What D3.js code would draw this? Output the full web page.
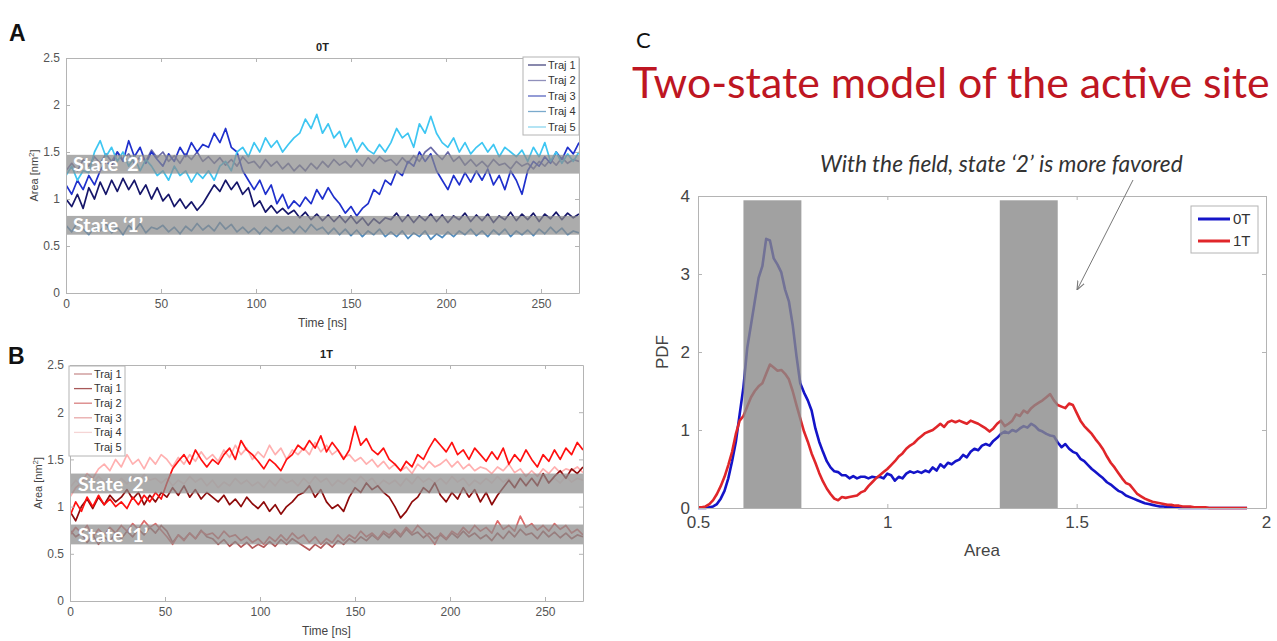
<!DOCTYPE html>
<html><head><meta charset="utf-8">
<script src="https://cdn.jsdelivr.net/npm/d3@7"></script>
<style>body{margin:0;background:#fff;} svg{display:block;font-family:"Liberation Sans",Arial,sans-serif;}</style>
</head><body><svg id="fig" width="1277" height="641"></svg>
<script>
// ---------------- DATA ----------------
const timeTicks = [0, 50, 100, 150, 200, 250];
const areaTicks = [0, 0.5, 1, 1.5, 2, 2.5];
const sampleTimes = d3.range(0, 271, 3); // ns, one sample every 3 ns

// Panel A (0T) trajectories, area in nm^2
const trajLabelsA = ["Traj 1", "Traj 2", "Traj 3", "Traj 4", "Traj 5"];
const a0T_traj1 = [1.0,0.92,1.05,0.9,1.12,1.0,1.18,1.05,1.2, 1.08,1.22,1.1,1.2,1.05,1.15,1.0,1.12, 0.98,1.05,0.92,1.0,0.9,0.97,0.88,0.95, 1.05,1.15,1.08,1.2,1.1,1.18,1.05,1.12, 0.92,0.98,0.86,0.93,0.85,0.9,0.84,0.88, 0.8,0.86,0.78,0.84,0.77,0.83,0.76,0.82, 0.75,0.82,0.74,0.8,0.72,0.79,0.74,0.8, 0.78,0.85,0.76,0.83,0.75,0.82,0.77,0.84, 0.76,0.83,0.75,0.82,0.78,0.85,0.76,0.83, 0.77,0.84,0.75,0.82,0.78,0.86,0.77,0.84, 0.78,0.85,0.76,0.84,0.79,0.86,0.78,0.85,0.8,0.84];
const a0T_traj2 = [1.3,1.38,1.3,1.42,1.35,1.45,1.38,1.48,1.4, 1.5,1.42,1.48,1.38,1.45,1.4,1.52,1.44, 1.5,1.4,1.46,1.38,1.48,1.42,1.5,1.4, 1.45,1.38,1.44,1.36,1.42,1.35,1.45,1.38, 1.4,1.33,1.42,1.35,1.4,1.32,1.38,1.3, 1.36,1.3,1.38,1.32,1.4,1.34,1.42,1.36, 1.4,1.34,1.42,1.35,1.44,1.38,1.45,1.4, 1.42,1.36,1.44,1.38,1.46,1.4,1.5,1.55, 1.48,1.42,1.5,1.4,1.45,1.36,1.42,1.35, 1.4,1.34,1.42,1.36,1.38,1.32,1.4,1.35, 1.38,1.32,1.4,1.35,1.42,1.36,1.44,1.38,1.42,1.4];
const a0T_traj3 = [1.15,1.05,1.2,1.1,1.25,1.15,1.3,1.4,1.35, 1.5,1.4,1.62,1.45,1.55,1.38,1.5,1.42, 1.35,1.48,1.4,1.55,1.45,1.6,1.5,1.58, 1.55,1.7,1.6,1.75,1.55,1.5,1.3,1.2, 1.1,1.2,1.05,1.15,0.95,1.05,0.9,0.98, 0.92,1.02,0.95,1.1,1.0,1.12,1.02,0.95, 0.85,0.92,0.82,0.9,0.95,1.1,1.05,1.2, 1.15,1.3,1.25,1.4,1.35,1.5,1.4,1.48, 1.3,1.2,1.1,1.25,1.15,1.28,1.18,1.3, 1.2,1.32,1.15,1.25,1.1,1.3,1.2,1.05, 1.3,1.4,1.35,1.45,1.38,1.5,1.42,1.55,1.48,1.6];
const a0T_traj4 = [0.72,0.65,0.75,0.68,0.62,0.7,0.66,0.74,0.64, 0.7,0.62,0.72,0.66,0.74,0.64,0.7,0.68, 0.72,0.65,0.7,0.63,0.71,0.66,0.74,0.67, 0.72,0.66,0.75,0.68,0.73,0.65,0.7,0.64, 0.69,0.63,0.7,0.65,0.72,0.66,0.7,0.64, 0.71,0.65,0.73,0.67,0.7,0.63,0.69,0.62, 0.68,0.61,0.67,0.6,0.66,0.62,0.68,0.6, 0.65,0.6,0.66,0.58,0.64,0.6,0.66,0.57, 0.63,0.59,0.65,0.6,0.66,0.62,0.68,0.61, 0.66,0.6,0.67,0.62,0.68,0.6,0.66,0.62, 0.67,0.61,0.68,0.63,0.7,0.64,0.69,0.62,0.66,0.64];
const a0T_traj5 = [1.25,1.35,1.2,1.3,1.28,1.5,1.62,1.45,1.55, 1.4,1.5,1.35,1.45,1.3,1.42,1.35,1.25, 1.3,1.2,1.35,1.25,1.3,1.18,1.28,1.22, 1.3,1.2,1.35,1.4,1.3,1.5,1.55,1.45, 1.6,1.5,1.65,1.55,1.62,1.5,1.58,1.65, 1.7,1.85,1.75,1.9,1.7,1.8,1.65,1.72, 1.55,1.65,1.5,1.6,1.52,1.48,1.58,1.5, 1.6,1.75,1.65,1.7,1.55,1.8,1.7,1.88, 1.7,1.6,1.55,1.65,1.5,1.6,1.48,1.55, 1.6,1.5,1.58,1.45,1.55,1.5,1.45,1.52, 1.4,1.55,1.45,1.6,1.4,1.5,1.38,1.48,1.4,1.5];

// Panel B (1T) trajectories
const trajLabelsB = ["Traj 1", "Traj 1", "Traj 2", "Traj 3", "Traj 4", "Traj 5"];
const b1T_traj1a = [0.75,0.68,0.72,0.62,0.7,0.6,0.68,0.63,0.72, 0.66,0.74,0.68,0.76,0.7,0.78,0.72,0.8, 0.74,0.62,0.7,0.65,0.72,0.66,0.75,0.68, 0.66,0.6,0.65,0.58,0.63,0.57,0.62,0.56, 0.6,0.57,0.63,0.58,0.65,0.6,0.66,0.62, 0.58,0.54,0.6,0.56,0.62,0.57,0.64,0.6, 0.66,0.62,0.68,0.64,0.7,0.65,0.72,0.67, 0.74,0.68,0.76,0.7,0.73,0.67,0.72,0.66, 0.7,0.65,0.72,0.67,0.74,0.68,0.72,0.66, 0.7,0.64,0.72,0.66,0.74,0.68,0.76,0.7, 0.72,0.66,0.74,0.68,0.73,0.67,0.72,0.66,0.7,0.68];
const b1T_traj1b = [0.95,0.85,1.0,1.08,0.98,1.1,1.02,1.12,1.05, 1.1,1.18,1.08,1.15,1.02,1.12,1.05,1.15, 1.1,1.2,1.12,1.22,1.1,1.18,1.08,1.15, 1.1,1.05,1.12,1.02,1.08,1.0,1.1,1.03, 0.98,1.05,0.95,1.02,0.92,1.0,1.05,1.12, 1.15,1.22,1.1,1.18,1.05,0.98,1.02,0.95, 1.1,1.2,1.15,1.25,1.18,1.22,1.15,1.1, 1.0,0.88,0.95,1.05,1.1,1.2,1.15,1.25, 1.12,1.05,1.15,1.08,1.2,1.1,1.18,1.05, 1.15,1.02,1.12,1.2,1.28,1.2,1.3,1.22, 1.3,1.22,1.35,1.25,1.32,1.38,1.3,1.4,1.35,1.42];
const b1T_traj2 = [0.9,1.05,0.95,1.1,1.0,1.12,1.02,1.08,1.0, 1.05,0.98,1.1,1.02,1.12,1.05,1.15,1.08, 1.25,1.4,1.48,1.55,1.45,1.6,1.5,1.42, 1.5,1.45,1.55,1.62,1.5,1.7,1.6,1.55, 1.48,1.4,1.5,1.45,1.38,1.5,1.55,1.65, 1.6,1.7,1.62,1.75,1.58,1.68,1.6,1.5, 1.6,1.85,1.65,1.72,1.6,1.55,1.62,1.5, 1.45,1.38,1.48,1.42,1.55,1.5,1.62,1.72, 1.65,1.58,1.68,1.55,1.6,1.5,1.62,1.55, 1.48,1.58,1.5,1.62,1.45,1.55,1.48,1.6, 1.5,1.42,1.55,1.48,1.6,1.5,1.62,1.55,1.68,1.6];
const b1T_traj3 = [0.7,0.78,0.72,0.8,0.68,0.76,0.7,0.78,0.72, 0.8,0.74,0.82,0.76,0.85,0.78,0.82,0.75, 0.68,0.6,0.7,0.64,0.72,0.66,0.74,0.7, 0.72,0.66,0.74,0.68,0.7,0.64,0.68,0.62, 0.66,0.6,0.68,0.63,0.7,0.64,0.72,0.66, 0.7,0.62,0.68,0.6,0.66,0.62,0.7,0.64, 0.7,0.66,0.74,0.68,0.72,0.66,0.74,0.7, 0.76,0.7,0.78,0.72,0.8,0.74,0.68,0.6, 0.72,0.66,0.74,0.7,0.78,0.72,0.8,0.74, 0.78,0.72,0.85,0.76,0.8,0.74,0.9,0.78, 0.82,0.75,0.8,0.74,0.82,0.76,0.8,0.72,0.76,0.7];
const b1T_traj4 = [1.1,1.2,1.25,1.35,1.3,1.4,1.45,1.38,1.5, 1.42,1.55,1.45,1.5,1.4,1.52,1.45,1.55, 1.5,1.42,1.52,1.45,1.55,1.48,1.58,1.5, 1.55,1.48,1.6,1.52,1.65,1.55,1.62,1.5, 1.58,1.52,1.65,1.55,1.62,1.5,1.6,1.55, 1.62,1.55,1.68,1.58,1.65,1.55,1.6,1.52, 1.55,1.48,1.52,1.45,1.5,1.42,1.48,1.4, 1.45,1.38,1.42,1.35,1.45,1.4,1.48,1.42, 1.45,1.5,1.42,1.48,1.4,1.45,1.38,1.42, 1.4,1.35,1.42,1.38,1.45,1.36,1.4,1.32, 1.38,1.32,1.4,1.35,1.42,1.36,1.4,1.38,1.42,1.36];
const b1T_traj5 = [1.2,1.28,1.22,1.3,1.25,1.32,1.26,1.3,1.24, 1.3,1.24,1.32,1.26,1.34,1.28,1.3,1.25, 1.3,1.22,1.28,1.24,1.32,1.26,1.3,1.22, 1.28,1.2,1.26,1.22,1.3,1.24,1.28,1.22, 1.26,1.2,1.28,1.22,1.3,1.25,1.28,1.22, 1.3,1.24,1.32,1.26,1.3,1.22,1.28,1.24, 1.3,1.25,1.32,1.26,1.3,1.22,1.28,1.24, 1.28,1.22,1.3,1.24,1.32,1.26,1.3,1.25, 1.3,1.24,1.32,1.26,1.3,1.22,1.28,1.24, 1.3,1.25,1.32,1.26,1.3,1.22,1.28,1.24, 1.3,1.24,1.32,1.26,1.3,1.25,1.32,1.26,1.3,1.28];

// State bands [low, high] in nm^2
const statesA = [[0.62, 0.82], [1.27, 1.47]];
const statesB = [[0.60, 0.81], [1.14, 1.35]];
const stateNames = ["State \u20181\u2019", "State \u20182\u2019"];

// Panel C: PDF of area
const pdfTicksX = [0.5, 1, 1.5, 2];
const pdfTicksY = [0, 1, 2, 3, 4];
const areaBins = d3.range(0, 146).map(i => 0.5 + i / 100); // bin centres 0.50..1.95
const pdf0T = [0.00,0.00,0.00,0.01,0.02,0.05,0.12,0.22,0.38,0.60, 0.85,1.20,1.55,2.05,2.35,2.65,2.95,3.10,3.45,3.43, 3.20,3.12,3.02,2.80,2.65,2.35,1.95,1.60,1.48,1.38, 1.25,1.02,0.85,0.72,0.60,0.52,0.47,0.46,0.42,0.42, 0.38,0.41,0.38,0.40,0.40,0.38,0.40,0.39,0.40,0.38, 0.44,0.42,0.35,0.40,0.38,0.44,0.47,0.45,0.47,0.45, 0.48,0.46,0.52,0.48,0.56,0.52,0.58,0.56,0.60,0.62, 0.68,0.65,0.72,0.76,0.74,0.80,0.82,0.80,0.86,0.90, 0.95,0.98,0.96,1.00,0.98,1.02,1.05,1.03,1.08,1.05, 1.00,0.98,0.95,0.93,0.92,0.84,0.78,0.82,0.76,0.72, 0.70,0.63,0.60,0.55,0.50,0.46,0.42,0.38,0.33,0.30, 0.26,0.22,0.20,0.16,0.14,0.12,0.10,0.08,0.06,0.05, 0.04,0.03,0.02,0.02,0.01,0.01,0.01,0.00,0.00,0.00, 0.00,0.00,0.00,0.00,0.00,0.00,0.00,0.00,0.00,0.00, 0.00,0.00,0.00,0.00,0.00,0.00];
const pdf1T = [0.01,0.01,0.02,0.05,0.10,0.18,0.28,0.40,0.55,0.72, 0.95,1.12,1.18,1.30,1.42,1.50,1.56,1.60,1.72,1.84, 1.80,1.76,1.77,1.72,1.65,1.50,1.32,1.15,0.98,0.85, 0.70,0.58,0.45,0.34,0.25,0.18,0.12,0.10,0.14,0.13, 0.14,0.15,0.16,0.20,0.22,0.28,0.33,0.38,0.42,0.46, 0.50,0.55,0.60,0.66,0.70,0.76,0.80,0.83,0.88,0.92, 0.96,0.98,1.00,1.04,1.08,1.04,1.10,1.12,1.10,1.12, 1.10,1.08,1.12,1.10,1.08,1.05,1.02,0.98,1.02,1.08, 1.12,1.05,1.08,1.12,1.20,1.18,1.25,1.22,1.28,1.32, 1.35,1.38,1.42,1.46,1.38,1.32,1.30,1.28,1.34,1.32, 1.22,1.12,1.05,1.00,0.95,0.88,0.82,0.75,0.66,0.58, 0.52,0.45,0.38,0.32,0.30,0.24,0.18,0.15,0.12,0.10, 0.08,0.07,0.06,0.05,0.04,0.04,0.03,0.03,0.02,0.02, 0.02,0.01,0.01,0.01,0.01,0.00,0.00,0.00,0.00,0.00, 0.00,0.00,0.00,0.00,0.00,0.00];
const pdfStates = [[0.62, 0.773], [1.297, 1.45]];
const pdfSeriesNames = ["0T", "1T"];

// ---------------- DRAWING ----------------
const svg = d3.select("#fig");
const fmt = d3.format("~g");

function fitText(sel, targetW) {
  const w = sel.node().getComputedTextLength();
  const fs = parseFloat(sel.attr("font-size"));
  sel.attr("font-size", fs * targetW / w);
}

function styleAxis(g, fs, color) {
  g.selectAll(".domain").attr("stroke", "#b4b4b4").attr("stroke-width", 1);
  g.selectAll(".tick line").attr("stroke", "#b4b4b4");
  g.selectAll(".tick text").attr("fill", color).attr("font-size", fs).attr("font-family", "'Liberation Sans', Arial, sans-serif");
}

function frame(g, x, y, xt, yt, fs, color, pad) {
  const [x0, x1] = x.range(), [y0, y1] = y.range();
  const gb = g.append("g").attr("transform", `translate(0,${y0})`)
    .call(d3.axisBottom(x).tickValues(xt).tickSizeInner(-4).tickSizeOuter(0).tickPadding(pad).tickFormat(fmt));
  const gt = g.append("g").attr("transform", `translate(0,${y1})`)
    .call(d3.axisTop(x).tickValues(xt).tickSizeInner(-4).tickSizeOuter(0).tickFormat(() => ""));
  const gl = g.append("g").attr("transform", `translate(${x0},0)`)
    .call(d3.axisLeft(y).tickValues(yt).tickSizeInner(-4).tickSizeOuter(0).tickPadding(pad).tickFormat(fmt));
  const gr = g.append("g").attr("transform", `translate(${x1},0)`)
    .call(d3.axisRight(y).tickValues(yt).tickSizeInner(-4).tickSizeOuter(0).tickFormat(() => ""));
  [gb, gt, gl, gr].forEach(a => styleAxis(a, fs, color));
}

function tracePanel(cfg) {
  const x = d3.scaleLinear().domain([0, 270]).range([cfg.left, cfg.right]);
  const y = d3.scaleLinear().domain([0, 2.5]).range([cfg.bottom, cfg.top]);
  const g = svg.append("g");
  const clipId = "clip" + cfg.id;
  svg.append("clipPath").attr("id", clipId).append("rect")
    .attr("x", cfg.left).attr("y", cfg.top).attr("width", cfg.right - cfg.left).attr("height", cfg.bottom - cfg.top);
  const plot = g.append("g").attr("clip-path", `url(#${clipId})`);
  const line = d3.line().x((d, j) => x(sampleTimes[j])).y(d => y(d));
  cfg.drawOrder.forEach(i => {
    plot.append("path").datum(cfg.series[i]).attr("d", line)
      .attr("fill", "none").attr("stroke", cfg.colors[i]).attr("stroke-width", 1.7).attr("stroke-linejoin", "round");
  });
  cfg.states.forEach((s, k) => {
    plot.append("rect").attr("x", x(0)).attr("width", x(270) - x(0))
      .attr("y", y(s[1])).attr("height", y(s[0]) - y(s[1]))
      .attr("fill", "#8c8c8c").attr("opacity", 0.72);
    const t = g.append("text").attr("x", x(0) + cfg.stateDx).attr("y", y((s[0] + s[1]) / 2))
      .attr("dy", "0.36em").attr("fill", "#fff").attr("font-weight", "bold")
      .attr("font-family", "Lato, 'Open Sans', sans-serif").attr("font-size", 18)
      .text(stateNames[k]);
    fitText(t, 70);
  });
  frame(g, x, y, timeTicks, areaTicks, 12, "#555", 6);
  g.append("text").attr("x", (cfg.left + cfg.right) / 2).attr("y", cfg.top - 7)
    .attr("text-anchor", "middle").attr("font-size", 11).attr("font-weight", "bold").attr("fill", "#222").text(cfg.title);
  g.append("text").attr("x", (cfg.left + cfg.right) / 2).attr("y", cfg.bottom + 34)
    .attr("text-anchor", "middle").attr("font-size", 12).attr("fill", "#444").text("Time [ns]");
  const yl = g.append("text").attr("transform", `translate(${cfg.left - 28},${(cfg.top + cfg.bottom) / 2}) rotate(-90)`)
    .attr("text-anchor", "middle").attr("font-size", 11).attr("fill", "#444");
  yl.append("tspan").text("Area [nm");
  yl.append("tspan").attr("font-size", 8).attr("dy", -4).text("2");
  yl.append("tspan").attr("dy", 4).text("]");
  const L = cfg.legend;
  g.append("rect").attr("x", L.x).attr("y", L.y).attr("width", L.w).attr("height", L.h)
    .attr("fill", "#fff").attr("stroke", "#b4b4b4");
  cfg.labels.forEach((lab, i) => {
    const yy = L.y + L.first + i * L.step;
    g.append("line").attr("x1", L.x + 5).attr("x2", L.x + 23).attr("y1", yy).attr("y2", yy)
      .attr("stroke", cfg.legendColors[i]).attr("stroke-width", 1.3);
    g.append("text").attr("x", L.x + 25).attr("y", yy).attr("dy", "0.35em")
      .attr("font-size", 11).attr("fill", "#333").text(lab);
  });
}

tracePanel({
  id: "A", left: 66, right: 579, top: 58, bottom: 293, title: "0T",
  series: [a0T_traj1, a0T_traj2, a0T_traj3, a0T_traj4, a0T_traj5],
  colors: ["#16166a", "#6a6aa8", "#1f30cc", "#4f8cc0", "#3ec6f2"],
  legendColors: ["#4a4a80", "#9090bb", "#5a66c0", "#7aaacc", "#8cd6ef"],
  drawOrder: [0, 1, 2, 3, 4],
  labels: trajLabelsA, states: statesA, stateDx: 7,
  legend: { x: 523, y: 57, w: 56, h: 78, first: 8, step: 15.5 }
});
tracePanel({
  id: "B", left: 70, right: 583, top: 365, bottom: 601, title: "1T",
  series: [b1T_traj1a, b1T_traj1b, b1T_traj2, b1T_traj3, b1T_traj4, b1T_traj5],
  colors: ["#b45a5a", "#8e0a0a", "#ff1010", "#e06a6a", "#ffb0b0", "#fbe2e2"],
  legendColors: ["#c99090", "#a85858", "#d98080", "#e8a8a8", "#f5d5d5", "#ffffff"],
  drawOrder: [0, 4, 5, 3, 1, 2],
  labels: trajLabelsB, states: statesB, stateDx: 8,
  legend: { x: 69, y: 366, w: 56, h: 90, first: 8, step: 14.6 }
});

svg.append("text").attr("x", 9).attr("y", 41).attr("font-size", 23).attr("font-weight", "bold").attr("fill", "#111").text("A");
svg.append("text").attr("x", 8).attr("y", 364).attr("font-size", 23).attr("font-weight", "bold").attr("fill", "#111").text("B");
svg.append("text").attr("x", 636).attr("y", 48).attr("font-size", 22).attr("font-family", "Lato, sans-serif").attr("fill", "#111").text("C");

// Panel C
(function () {
  const left = 698, right = 1266, top = 196, bottom = 508;
  const x = d3.scaleLinear().domain([0.5, 2]).range([left, right]);
  const y = d3.scaleLinear().domain([0, 4]).range([bottom, top]);
  const g = svg.append("g");
  const line = d3.line().x((d, i) => x(areaBins[i])).y(d => y(d));
  const cols = ["#1414c8", "#e0262a"];
  [pdf0T, pdf1T].forEach((s, k) => {
    g.append("path").datum(s).attr("d", line).attr("fill", "none")
      .attr("stroke", cols[k]).attr("stroke-width", 2.6).attr("stroke-linejoin", "round");
  });
  pdfStates.forEach(s => {
    g.append("rect").attr("x", x(s[0])).attr("width", x(s[1]) - x(s[0]))
      .attr("y", y(3.945)).attr("height", y(0) - y(3.945))
      .attr("fill", "#898989").attr("opacity", 0.8);
  });
  frame(g, x, y, pdfTicksX, pdfTicksY, 17, "#444", 8);
  g.append("text").attr("x", (left + right) / 2).attr("y", 556).attr("text-anchor", "middle")
    .attr("font-size", 17).attr("fill", "#444").text("Area");
  g.append("text").attr("transform", `translate(668,${(top + bottom) / 2}) rotate(-90)`)
    .attr("text-anchor", "middle").attr("font-size", 17).attr("fill", "#444").text("PDF");
  g.append("rect").attr("x", 1191).attr("y", 206).attr("width", 67).attr("height", 47)
    .attr("fill", "#fff").attr("stroke", "#b4b4b4");
  pdfSeriesNames.forEach((n, k) => {
    const yy = 219 + k * 22;
    g.append("line").attr("x1", 1198).attr("x2", 1230).attr("y1", yy).attr("y2", yy)
      .attr("stroke", cols[k]).attr("stroke-width", 3);
    g.append("text").attr("x", 1233).attr("y", yy).attr("dy", "0.36em").attr("font-size", 15)
      .attr("fill", "#333").text(n);
  });
  const title = svg.append("text").attr("x", 632).attr("y", 98).attr("font-size", 40)
    .attr("font-family", "Lato, 'Open Sans', sans-serif").attr("fill", "#be1622")
    .text("Two-state model of the active site");
  fitText(title, 638);
  const sub = svg.append("text").attr("x", 820).attr("y", 172).attr("font-size", 17)
    .attr("font-style", "italic").attr("font-family", "Lato, 'Open Sans', sans-serif").attr("fill", "#333")
    .text("With the field, state \u20182\u2019 is more favored");
  fitText(sub, 363);
  svg.append("defs").append("marker").attr("id", "arr").attr("viewBox", "0 0 10 10")
    .attr("refX", 10).attr("refY", 5).attr("markerWidth", 9).attr("markerHeight", 9)
    .attr("orient", "auto").attr("markerUnits", "userSpaceOnUse")
    .append("path").attr("d", "M0,1 L10,5 L0,9").attr("fill", "none").attr("stroke", "#777").attr("stroke-width", 1.2);
  svg.append("line").attr("x1", 1133).attr("y1", 180).attr("x2", 1077).attr("y2", 290)
    .attr("stroke", "#777").attr("stroke-width", 1).attr("marker-end", "url(#arr)");
})();
</script></body></html>
